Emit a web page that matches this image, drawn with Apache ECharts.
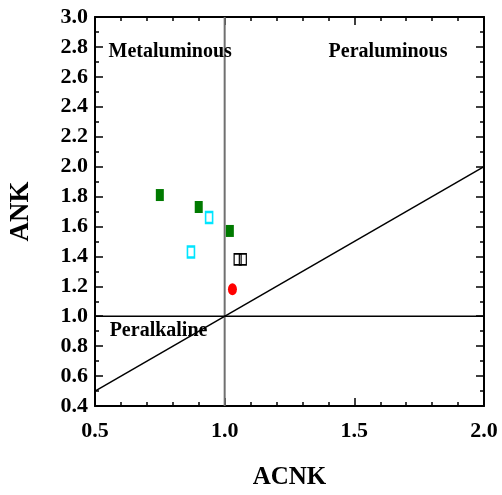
<!DOCTYPE html>
<html>
<head>
<meta charset="utf-8">
<script src="https://cdn.jsdelivr.net/npm/echarts@6/dist/echarts.min.js"></script>
<style>
html,body{margin:0;padding:0;background:#fff;}
#chart{width:502px;height:495px;}
</style>
</head>
<body>
<div id="chart"></div>
<script>
// Samples: [ACNK, ANK]
var groupGreen = [[0.75, 1.81], [0.90, 1.73], [1.02, 1.57]];
var groupCyan = [[0.87, 1.43], [0.94, 1.66]];
var groupBlack = [[1.05, 1.38], [1.07, 1.38]];
var groupRed = [[1.03, 1.18]];

// Field boundaries
var lineACNK1 = [[1.0, 0.4], [1.0, 3.0]];
var lineANK1 = [[0.5, 1.0], [2.0, 1.0]];
var lineEqual = [[0.5, 0.5], [2.0, 2.0]];

// Field names
var fieldLabels = [
  { name: 'Metaluminous', value: [0.79, 2.77] },
  { name: 'Peraluminous', value: [1.63, 2.77] },
  { name: 'Peralkaline', value: [0.745, 0.90] }
];

var serif = '"Liberation Serif", "Times New Roman", serif';
var chart = echarts.init(document.getElementById('chart'));

function axisBase(extra) {
  return Object.assign({
    axisLine: { show: true, onZero: false, lineStyle: { color: '#000', width: 2 } },
    axisTick: { show: true, inside: true, length: 8, lineStyle: { color: '#000', width: 1.5 } },
    splitLine: { show: false }
  }, extra);
}

chart.setOption({
  animation: false,
  backgroundColor: '#fff',
  grid: { left: 94, right: 18, top: 17, bottom: 89 },
  xAxis: [
    axisBase({
      type: 'value', min: 0.5, max: 2.0, interval: 0.5,
      minorTick: { show: true, splitNumber: 5, length: 4, lineStyle: { color: '#000', width: 1.5 } },
      name: 'ACNK', nameLocation: 'middle', nameGap: 59,
      nameTextStyle: { fontFamily: serif, fontWeight: 'bold', fontSize: 25, color: '#000' },
      axisLabel: { fontFamily: serif, fontWeight: 'bold', fontSize: 22, color: '#000', margin: 14,
        formatter: function (v) { return v.toFixed(1); } }
    }),
    axisBase({
      type: 'value', min: 0.5, max: 2.0, interval: 0.5, position: 'top',
      minorTick: { show: true, splitNumber: 5, length: 4, lineStyle: { color: '#000', width: 1.5 } },
      axisLabel: { show: false }
    })
  ],
  yAxis: [
    axisBase({
      type: 'value', min: 0.4, max: 3.0, interval: 0.2,
      minorTick: { show: true, splitNumber: 2, length: 4, lineStyle: { color: '#000', width: 1.5 } },
      name: 'ANK', nameLocation: 'middle', nameGap: 60, nameRotate: 90,
      nameTextStyle: { fontFamily: serif, fontWeight: 'bold', fontSize: 27, color: '#000' },
      axisLabel: { fontFamily: serif, fontWeight: 'bold', fontSize: 22, color: '#000', margin: 7,
        formatter: function (v) { return v.toFixed(1); } }
    }),
    axisBase({
      type: 'value', min: 0.4, max: 3.0, interval: 0.2, position: 'right',
      minorTick: { show: true, splitNumber: 2, length: 4, lineStyle: { color: '#000', width: 1.5 } },
      axisLabel: { show: false }
    })
  ],
  series: [
    { type: 'line', data: lineACNK1, symbol: 'none', lineStyle: { color: '#707070', width: 2 }, z: 1 },
    { type: 'line', data: lineANK1, symbol: 'none', lineStyle: { color: '#000', width: 1.5 }, z: 1 },
    { type: 'line', data: lineEqual, symbol: 'none', lineStyle: { color: '#000', width: 1.5 }, z: 1 },
    { type: 'scatter', data: groupGreen, symbol: 'rect', symbolSize: [8, 12],
      itemStyle: { color: '#007a00', opacity: 1 }, z: 3 },
    { type: 'scatter', data: groupCyan, symbol: 'rect', symbolSize: [7, 11],
      itemStyle: { color: '#fff', borderColor: '#00e5ff', borderWidth: 2, opacity: 1 }, z: 3 },
    { type: 'scatter', data: groupBlack, symbol: 'rect', symbolSize: [7, 11],
      itemStyle: { color: 'transparent', borderColor: '#000', borderWidth: 1.5, opacity: 1 }, z: 3 },
    { type: 'scatter', data: groupRed, symbol: 'circle', symbolSize: [9, 12],
      itemStyle: { color: '#ff0000', opacity: 1 }, z: 3 },
    { type: 'scatter', data: fieldLabels, symbolSize: 0, silent: true, z: 4,
      itemStyle: { opacity: 1 },
      label: { show: true, position: 'inside', formatter: '{b}',
        fontFamily: serif, fontWeight: 'bold', fontSize: 20, color: '#000' } }
  ]
});
</script>
</body>
</html>
